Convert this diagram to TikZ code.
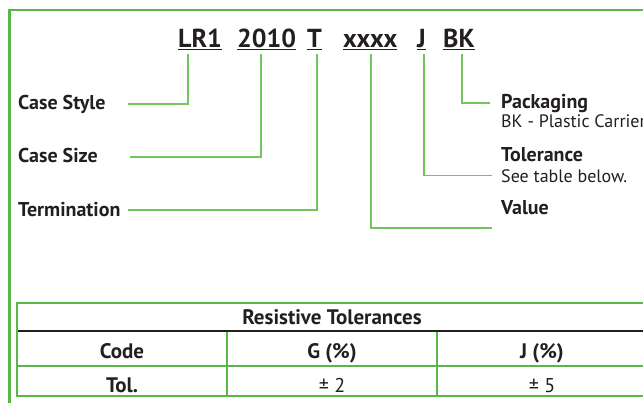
\documentclass[tikz,border=0pt]{standalone}
\usepackage{fontspec}
\setmainfont{PT Sans}
\usetikzlibrary{positioning}
\definecolor{framegreen}{RGB}{88,183,70}
\definecolor{leadgreen}{RGB}{112,197,94}
\definecolor{inkgray}{RGB}{35,31,32}

\begin{document}
\begin{tikzpicture}[x=1pt, y=-1pt,
    part/.style={anchor=base west, inner sep=0pt, font=\bfseries\fontsize{26}{26}\selectfont, text=inkgray},
    lbl/.style={anchor=base west, inner sep=0pt, font=\bfseries\fontsize{20}{20}\selectfont, text=inkgray},
    note/.style={anchor=base west, inner sep=0pt, font=\fontsize{18}{18}\selectfont, text=inkgray},
    cell/.style={anchor=base, inner sep=0pt, font=\bfseries\fontsize{21}{21}\selectfont, text=inkgray},
    lead/.style={leadgreen, line width=1.4pt},
    uline/.style={inkgray, line width=1pt}]

    \useasboundingbox (0,0) rectangle (643,402);
    \clip (0,0) rectangle (643,402);

    % the green frame round the whole thing:
    \draw[framegreen, line width=2.5pt] (9.5,420) -- (9.5,10) -- (680,10);

    % the part number, one node per field:
    \node[part] (lr1)  at (178,47) {LR1};
    \node[part] (size) at (237,47) {2010};
    \node[part] (term) at (307,47) {T};
    \node[part] (val)  at (343,47) {xxxx};
    \node[part] (tol)  at (417,47) {J};
    \node[part] (pack) at (443,47) {BK};

    % underline each field:
    \foreach \f in {lr1, size, term, val, tol, pack}
        \draw[uline] ([yshift=-2pt]\f.base west) -- ([yshift=-2pt]\f.base east);

    % labels on the left:
    \node[lbl] (cstyle) at (18,109) {Case Style};
    \node[lbl] (csize)  at (18,162) {Case Size};
    \node[lbl] (cterm)  at (18,216) {Termination};
    \coordinate (cstyleEnd) at (128,104);
    \coordinate (csizeEnd)  at (130,157);
    \coordinate (ctermEnd)  at (128,210);

    % labels on the right:
    \node[lbl]  (lpack)  at (501,108) {Packaging};
    \node[note] (npack)  at (501,127) {BK - Plastic Carrier};
    \node[lbl]  (ltol)   at (501,161) {Tolerance};
    \node[note] (ntol)   at (501,182) {See table below.};
    \node[lbl]  (lval)   at (501,214) {Value};
    \coordinate (valEnd) at (492,228);

    % leaders from the fields down to their labels:
    \draw[lead] ([xshift=10pt, yshift=-7pt]lr1.base west)  |- (cstyleEnd);
    \draw[lead] ([xshift=24pt, yshift=-7pt]size.base west) |- (csizeEnd);
    \draw[lead] ([xshift=10pt, yshift=-7pt]term.base west) |- (ctermEnd);
    \draw[lead] ([xshift=28pt, yshift=-7pt]val.base west)  |- (valEnd);
    \draw[lead] ([xshift=7pt,  yshift=-7pt]tol.base west)  |- ([xshift=-9pt]ntol.west);
    \draw[lead] ([xshift=19pt, yshift=-7pt]pack.base west) |- ([xshift=-11pt]lpack.west);

    % tolerance table:
    \draw[framegreen, line width=1.4pt] (227,331) -- (227,396) (437,331) -- (437,396);
    \draw[framegreen, line width=1.4pt] (17,366) -- (660,366);
    \draw[inkgray, line width=1.1pt] (17,331) -- (660,331);
    \draw[framegreen, line width=2pt] (660,303) -- (17,303) -- (17,396) -- (660,396);

    \node[cell] (thead) at (332,324) {Resistive Tolerances};
    \node[cell] (tcode) at (122,358) {Code};
    \node[cell] (tg)    at (332,358) {G (\%)};
    \node[cell] (tj)    at (542,358) {J (\%)};
    \node[cell] (ttol)  at (122,392) {Tol.};
    \node[cell, font=\fontsize{20}{20}\selectfont] (tgv) at (332,392) {± 2};
    \node[cell, font=\fontsize{20}{20}\selectfont] (tjv) at (542,392) {± 5};

\end{tikzpicture}
\end{document}
